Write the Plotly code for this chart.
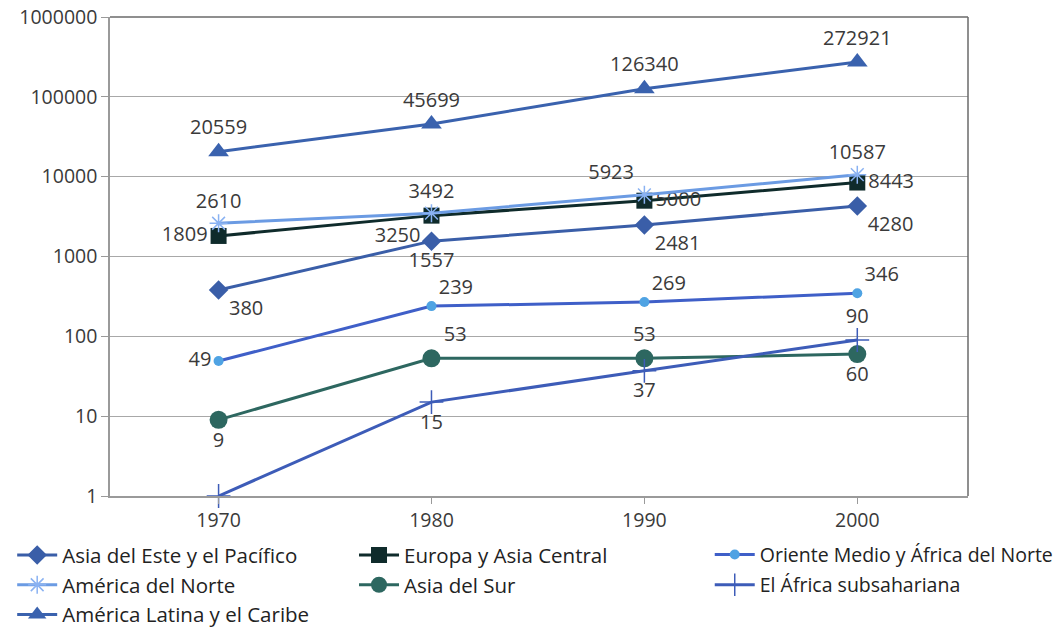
import plotly.graph_objects as go

years = [1970, 1980, 1990, 2000]

series_names = [
    "Asia del Este y el Pacífico",
    "Europa y Asia Central",
    "Oriente Medio y África del Norte",
    "América del Norte",
    "Asia del Sur",
    "El África subsahariana",
    "América Latina y el Caribe",
]

asia_este = [380, 1557, 2481, 4280]
europa = [1809, 3250, 5000, 8443]
oriente_medio = [49, 239, 269, 346]
america_norte = [2610, 3492, 5923, 10587]
asia_sur = [9, 53, 53, 60]
africa_sub = [1, 15, 37, 90]
america_latina = [20559, 45699, 126340, 272921]

africa_labels = ["", "15", "37", "90"]

y_ticks = [1, 10, 100, 1000, 10000, 100000, 1000000]
y_tick_labels = ["1", "10", "100", "1000", "10000", "100000", "1000000"]

FONT = "Open Sans"
LBL = dict(family=FONT, size=20, color="#3a3a3a")

fig = go.Figure()

def add(name, vals, line_color, marker, positions, legend, texts=None):
    if texts is None:
        texts = [str(v) for v in vals]
    fig.add_trace(go.Scatter(
        x=years, y=vals, name=name,
        mode="lines+markers+text",
        line=dict(color=line_color, width=3),
        marker=marker,
        text=texts, textposition=positions, textfont=LBL,
        cliponaxis=False,
        legend=legend, legendgroup=name,
    ))

add(series_names[0], asia_este, "#3a5ea8",
    dict(symbol="diamond", size=15, color="#3a5ea8"),
    ["bottom right", "bottom center", "bottom right", "bottom right"], "legend")
add(series_names[1], europa, "#0f2b2b",
    dict(symbol="square", size=16, color="#0f2b2b"),
    ["middle left", "bottom left", "middle right", "middle right"], "legend2")
add(series_names[2], oriente_medio, "#3f5fc8",
    dict(symbol="circle", size=10, color="#4fa3e3"),
    ["middle left", "top right", "top right", "top right"], "legend3")
add(series_names[3], america_norte, "#6b9be3",
    dict(symbol="asterisk-open", size=15, color="#8ab2f2", line=dict(width=1.5, color="#8ab2f2")),
    ["top center", "top center", "top left", "top center"], "legend")
add(series_names[4], asia_sur, "#2d6760",
    dict(symbol="circle", size=18, color="#2d6760"),
    ["bottom center", "top right", "top center", "bottom center"], "legend2")
add(series_names[5], africa_sub, "#3d5cb8",
    dict(symbol="cross-thin-open", size=17, color="#3d5cb8", line=dict(width=1.5, color="#3d5cb8")),
    ["bottom center", "bottom center", "bottom center", "top center"], "legend3", texts=africa_labels)
add(series_names[6], america_latina, "#3a62ae",
    dict(symbol="triangle-up", size=18, color="#3a62ae"),
    ["top center"] * 4, "legend")

leg_common = dict(
    orientation="v", yanchor="top", xanchor="left", y=-0.082,
    font=dict(family=FONT, size=20.5, color="#222222"),
    itemwidth=40, tracegroupgap=0, bgcolor="rgba(0,0,0,0)",
)

fig.update_layout(
    width=1060, height=627,
    margin=dict(l=110, r=92, t=17, b=131, autoexpand=False),
    paper_bgcolor="white", plot_bgcolor="white",
    font=dict(family=FONT, color="#3a3a3a"),
    showlegend=True,
    legend=dict(leg_common, x=-0.114),
    legend2=dict(leg_common, x=0.2844),
    legend3=dict(leg_common, x=0.699, tracegroupgap=2,
                 font=dict(family=FONT, size=19.5, color="#222222")),
    xaxis=dict(
        range=[1964.9, 2005.2], tickvals=years, ticktext=[str(y) for y in years],
        showgrid=False, zeroline=False,
        showline=True, linecolor="#9a9a9a", linewidth=1.5,
        ticks="outside", ticklen=6, tickcolor="#9a9a9a",
        tickfont=dict(family=FONT, size=19.5, color="#3a3a3a"),
        ticklabeloverflow="allow",
    ),
    yaxis=dict(
        type="log", range=[0, 6], tickvals=y_ticks, ticktext=y_tick_labels,
        showgrid=True, gridcolor="#a8a8a8", gridwidth=1.2,
        zeroline=False,
        showline=True, linecolor="#9a9a9a", linewidth=1.5,
        ticks="outside", ticklen=7, tickcolor="#9a9a9a",
        tickfont=dict(family=FONT, size=19.5, color="#3a3a3a"),
        ticklabeloverflow="allow",
    ),
)

# plot-area border on top and right (dark gray)
fig.add_shape(type="line", xref="paper", yref="paper", x0=0, x1=1, y0=1, y1=1,
              line=dict(color="#6a6a6a", width=1.5))
fig.add_shape(type="line", xref="paper", yref="paper", x0=1, x1=1, y0=0, y1=1,
              line=dict(color="#6a6a6a", width=1.5))

# remove the browser's default 8px body margin so the figure fills the window exactly
fig.write_html("out.html", config={"displayModeBar": False},
               post_script="document.body.style.margin='0';")
